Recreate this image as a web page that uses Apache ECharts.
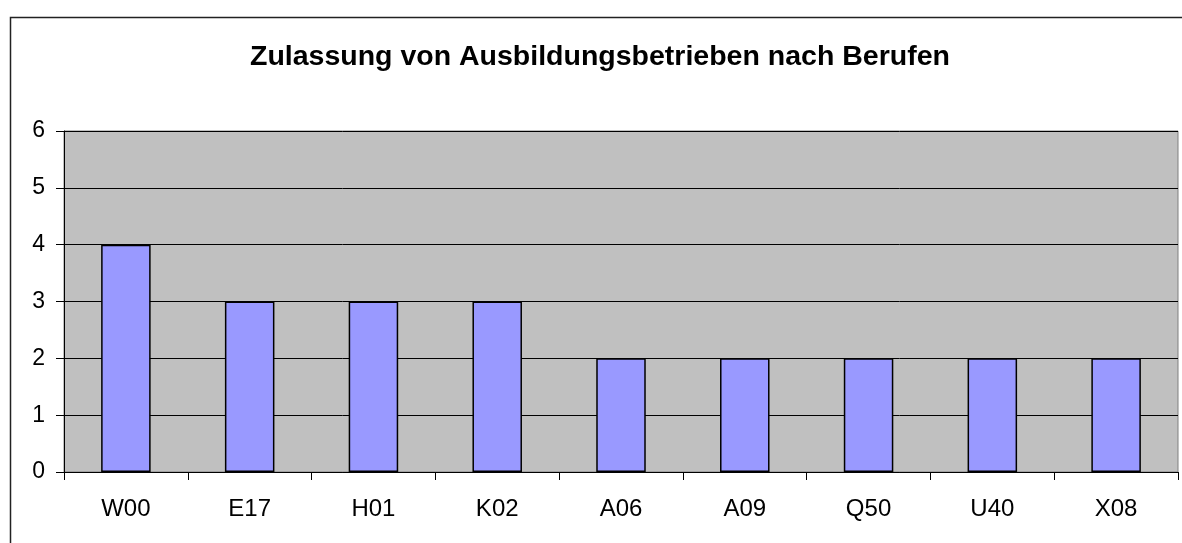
<!DOCTYPE html>
<html>
<head>
<meta charset="utf-8">
<script src="https://cdn.jsdelivr.net/npm/echarts@6/dist/echarts.min.js"></script>
<style>
html, body { margin: 0; padding: 0; background: #fff; }
#main { width: 1182px; height: 543px; }
</style>
</head>
<body>
<div id="main"></div>
<script>
var titleText = 'Zulassung von Ausbildungsbetrieben nach Berufen';
var berufe = ['W00', 'E17', 'H01', 'K02', 'A06', 'A09', 'Q50', 'U40', 'X08'];
var anzahl = [4, 3, 3, 3, 2, 2, 2, 2, 2];

var myChart = echarts.init(document.getElementById('main'));

var option = {
    backgroundColor: '#fff',
    animation: false,
    title: {
        text: titleText,
        left: 250,
        top: 38,
        padding: [5, 0],
        textStyle: {
            fontFamily: 'Liberation Sans, Arial, sans-serif',
            fontSize: 28.5,
            fontWeight: 'bold',
            color: '#000'
        }
    },
    graphic: [{
        type: 'rect',
        left: 8,
        top: 15,
        shape: { width: 1300, height: 700 },
        style: { fill: 'none', stroke: '#222', lineWidth: 1.5 },
        silent: true
    }],
    grid: {
        left: 64,
        right: 4,
        top: 131,
        bottom: 71,
        show: true,
        backgroundColor: '#C0C0C0',
        borderColor: '#808080',
        borderWidth: 1
    },
    xAxis: {
        type: 'category',
        data: berufe,
        axisLine: { show: true, lineStyle: { color: '#000', width: 1 } },
        axisTick: { show: true, length: 8, lineStyle: { color: '#000' } },
        axisLabel: {
            margin: 25,
            fontFamily: 'Liberation Sans, Arial, sans-serif',
            fontSize: 24,
            color: '#000'
        }
    },
    yAxis: {
        type: 'value',
        min: 0,
        max: 6,
        interval: 1,
        axisLine: { show: true, lineStyle: { color: '#000', width: 1 } },
        axisTick: { show: true, length: 8, lineStyle: { color: '#000' } },
        axisLabel: {
            margin: 19,
            fontFamily: 'Liberation Sans, Arial, sans-serif',
            fontSize: 23,
            color: '#000'
        },
        splitLine: { show: true, lineStyle: { color: '#000', width: 1 } }
    },
    series: [{
        type: 'bar',
        data: anzahl,
        barWidth: '40%',
        itemStyle: {
            color: '#9999FF',
            borderColor: '#000',
            borderWidth: 1.5
        }
    }]
};
myChart.setOption(option);
</script>
</body>
</html>
